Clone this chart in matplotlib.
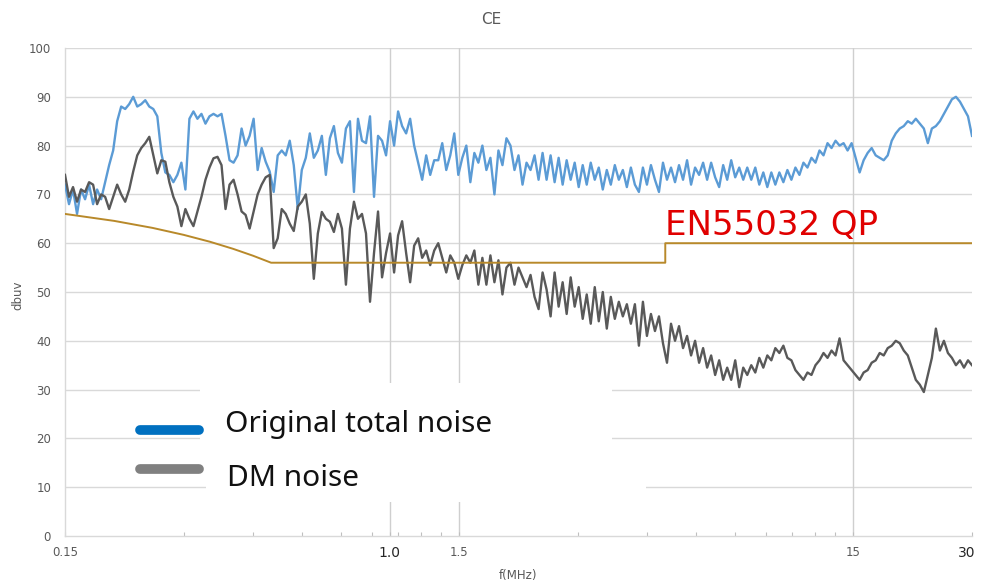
import numpy as np
import matplotlib
matplotlib.use("Agg")
import matplotlib.pyplot as plt
from matplotlib.ticker import FixedLocator, NullFormatter
from matplotlib.lines import Line2D
from matplotlib.patches import Rectangle
import matplotlib.transforms as mtransforms

# ---------------- data ----------------
# receiver sweep: 227 points spaced evenly on a log axis, 0.15 .. 30 MHz
sweep_freq_mhz = np.geomspace(0.15, 30, 227)

total_noise_dbuv = [
    72, 68, 71, 66, 71, 69, 72, 68, 71, 69,
    72.5, 76, 79, 85, 88, 87.5, 88.5, 90, 88, 88.5,
    89.3, 88, 87.5, 86, 78.5, 74.5, 74, 72.5, 74, 76.5,
    71, 85.5, 87, 85.5, 86.5, 84.5, 86, 86.5, 86, 86.5,
    82, 77, 76.5, 78, 83.5, 80, 82, 85.5, 75, 79.5,
    76.7, 74.7, 70.5, 78, 79, 78, 81, 76, 67, 75,
    77.5, 82.5, 77.5, 79, 82, 74, 81.5, 84, 78.5, 76.5,
    83.5, 85, 70.5, 85.5, 81, 80.5, 86, 69.5, 82, 81,
    78, 85, 80, 87, 84, 82.5, 85.5, 80, 76.5, 73,
    78, 74, 77, 77, 80.5, 75, 78, 82.5, 74, 77.5,
    80, 72.5, 78.5, 76.5, 80, 75, 77.5, 70, 79, 76,
    81.5, 80, 75, 78, 72, 76.5, 75, 78, 73, 78.5,
    73, 78, 72.5, 77.5, 72, 77, 73, 76.5, 71.5, 76,
    72, 76.5, 73, 75.5, 71, 75, 72, 76, 73, 75,
    71.5, 75.5, 72, 70.5, 75.5, 72, 76, 73, 70.5, 76.5,
    73, 75.5, 72.5, 76, 73, 77, 72, 75.5, 74, 76.5,
    73, 76.5, 73.5, 71.5, 76, 73, 77, 73.5, 75.5, 73,
    75.5, 73, 75.5, 72, 74.5, 71.5, 74.5, 72, 74.5, 72.5,
    75, 73, 75.5, 74, 76.5, 75.5, 77.5, 76.5, 79, 78,
    80.5, 79.5, 81, 80, 80.5, 79, 80.5, 77.5, 74.5, 77,
    78.5, 79.5, 78, 77.5, 77, 78, 81, 82.5, 83.5, 84,
    85, 84.5, 85.5, 84.5, 83.5, 80.5, 83.5, 84, 85, 86.5,
    88, 89.5, 90, 89, 87.5, 86, 82,
]

dm_noise_dbuv = [
    74, 69.5, 71.5, 68.5, 71, 70.5, 72.5, 72, 68, 70,
    69.5, 67, 69.5, 72, 70, 68.5, 71, 74.7, 78, 79.5,
    80.5, 81.8, 78, 74.3, 77, 76.7, 72.5, 69.5, 67.5, 63.5,
    67, 65, 63.5, 66.5, 69.5, 73, 75.5, 77.4, 77.7, 76,
    67, 72, 73, 70, 66.5, 65.8, 63, 66.5, 70, 72,
    73.5, 74, 59, 61, 67, 66, 64, 62.5, 67.5, 68.5,
    70, 64, 52.7, 62, 66.4, 65, 64.4, 62.3, 66, 63,
    51.5, 63, 68.5, 65, 66, 62, 48, 58, 66.5, 53,
    58, 62, 54, 61.6, 64.5, 58, 52, 59.5, 61, 57,
    58.5, 55.5, 58.5, 60, 57, 54, 57.5, 56, 52.7, 55.5,
    57.5, 56, 58.5, 51.5, 57, 51.5, 57.5, 52, 56.5, 49.5,
    55, 56, 51.5, 55, 53, 51, 53.5, 49, 46.5, 54,
    50.5, 45, 54, 47, 52, 45.5, 53, 47, 51, 44.5,
    49.5, 43.5, 51, 44, 50, 42.5, 49, 44.5, 48, 45,
    47.5, 43.5, 47.5, 39, 48, 41, 45.5, 42, 45, 39.5,
    35.5, 43.5, 40, 43, 38.5, 41, 37, 40, 35.5, 38.5,
    34.5, 37, 33, 36, 32, 34.5, 32, 36, 30.5, 34.5,
    33, 35, 33.5, 36.5, 34.5, 37, 36, 38.5, 37.5, 39,
    36.5, 36, 34, 33, 32, 33.5, 33, 35, 36, 37.5,
    36.5, 38, 37, 40.5, 36, 35, 34, 33, 32, 33.5,
    34, 35.5, 36, 37.5, 37, 38.5, 39, 40, 39.5, 38,
    37, 34.5, 32, 31, 29.5, 33, 36.5, 42.5, 38, 40,
    37.5, 36.5, 35, 36, 34.5, 36, 35,
]

limit_freq_mhz = [0.15, 0.2, 0.25, 0.3, 0.35, 0.4, 0.45, 0.5, 5, 5, 30]
limit_dbuv = [66, 64.57, 63.14, 61.71, 60.29, 58.86, 57.43, 56, 56, 60, 60]

major_ticks = [0.15, 1.0, 1.5, 15, 30]
major_labels = ["0.15", "1.0", "1.5", "15", "30"]
minor_ticks = [0.3, 0.45, 0.6, 0.75, 0.9, 1.05, 1.2, 1.35,
               3, 4.5, 6, 7.5, 9, 10.5, 12, 13.5]
vline_freqs = [1.0, 1.5, 15]
y_ticks = list(range(0, 101, 10))

series_labels = ["Original total noise", "DM noise"]
limit_label = "EN55032 QP"

# ---------------- figure ----------------
W, H = 981, 583
fig = plt.figure(figsize=(W / 100, H / 100), dpi=100)
L, R, T, B = 65, 972, 48, 536
ax = fig.add_axes([L / W, 1 - B / H, (R - L) / W, (B - T) / H])

ax.set_xscale("log")
ax.set_xlim(0.15, 30)
ax.set_ylim(0, 100)

grid_c = "#d9d9d9"
for yv in y_ticks[1:]:
    ax.axhline(yv, color=grid_c, lw=1.0, zorder=0)
for fv in vline_freqs:
    ax.axvline(fv, color="#cfcfcf", lw=1.0, zorder=0.5)

ax.plot(sweep_freq_mhz, total_noise_dbuv, color="#5B9BD5", lw=1.7, zorder=3)
ax.plot(sweep_freq_mhz, dm_noise_dbuv, color="#595959", lw=1.7, zorder=4)
ax.plot(limit_freq_mhz, limit_dbuv, color="#B8892A", lw=1.4, zorder=5)

# white legend panel covering the grid
ax.add_patch(Rectangle(((200 - L) / (R - L), (B - 470) / (B - T)),
                       (612 - 200) / (R - L), (470 - 383) / (B - T),
                       transform=ax.transAxes, facecolor="white",
                       edgecolor="none", zorder=1))
ax.add_patch(Rectangle(((206 - L) / (R - L), (B - 502) / (B - T)),
                       (646 - 206) / (R - L), (502 - 468) / (B - T),
                       transform=ax.transAxes, facecolor="white",
                       edgecolor="none", zorder=1))

for s in ["top", "right"]:
    ax.spines[s].set_visible(False)
for s in ["left", "bottom"]:
    ax.spines[s].set_color(grid_c)
    ax.spines[s].set_linewidth(1.0)

ax.set_yticks(y_ticks)
ax.set_yticklabels([str(v) for v in y_ticks])
ax.tick_params(axis="y", length=0, pad=10, labelsize=8.5, labelcolor="#595959")

ax.xaxis.set_major_locator(FixedLocator(major_ticks))
ax.set_xticklabels(major_labels)
ax.xaxis.set_minor_locator(FixedLocator(minor_ticks))
ax.xaxis.set_minor_formatter(NullFormatter())
ax.tick_params(axis="x", which="both", direction="in", length=3,
               color="#bfbfbf", width=0.8)
ax.tick_params(axis="x", which="major", pad=7, labelsize=8.5,
               labelcolor="#595959")
for lab in ax.get_xticklabels():
    if lab.get_text() in ("1.0", "30"):
        lab.set_color("#262626")
        lab.set_fontsize(10)
    if lab.get_text() == "30":
        lab.set_transform(lab.get_transform() +
                          mtransforms.ScaledTranslation(-5 / 100, 0, fig.dpi_scale_trans))

# texts
fig.text(491 / W, 1 - 19 / H, "CE", ha="center", va="center",
         fontsize=11, color="#595959")
fig.text(518 / W, 1 - 576 / H, "f(MHz)", ha="center", va="center",
         fontsize=8.5, color="#595959")
fig.text(18 / W, 1 - 295 / H, "dbuv", ha="center", va="center",
         rotation=90, fontsize=8.5, color="#595959")
fig.text(665 / W, 1 - 235 / H, limit_label, ha="left", va="baseline",
         fontsize=24.5, color="#E00000", family="DejaVu Sans")

# legend
fig.add_artist(Line2D([140 / W, 199 / W], [1 - 430 / H, 1 - 430 / H],
                      color="#0070C0", lw=7, solid_capstyle="round"))
fig.add_artist(Line2D([140 / W, 199 / W], [1 - 469 / H, 1 - 469 / H],
                      color="#808080", lw=7, solid_capstyle="round"))
fig.text(225 / W, 1 - 432 / H, series_labels[0], ha="left", va="baseline",
         fontsize=21.5, color="#111111", family="Noto Sans")
fig.text(227 / W, 1 - 486 / H, series_labels[1], ha="left", va="baseline",
         fontsize=21.5, color="#111111", family="Noto Sans")

fig.savefig("out.png", dpi=100)
